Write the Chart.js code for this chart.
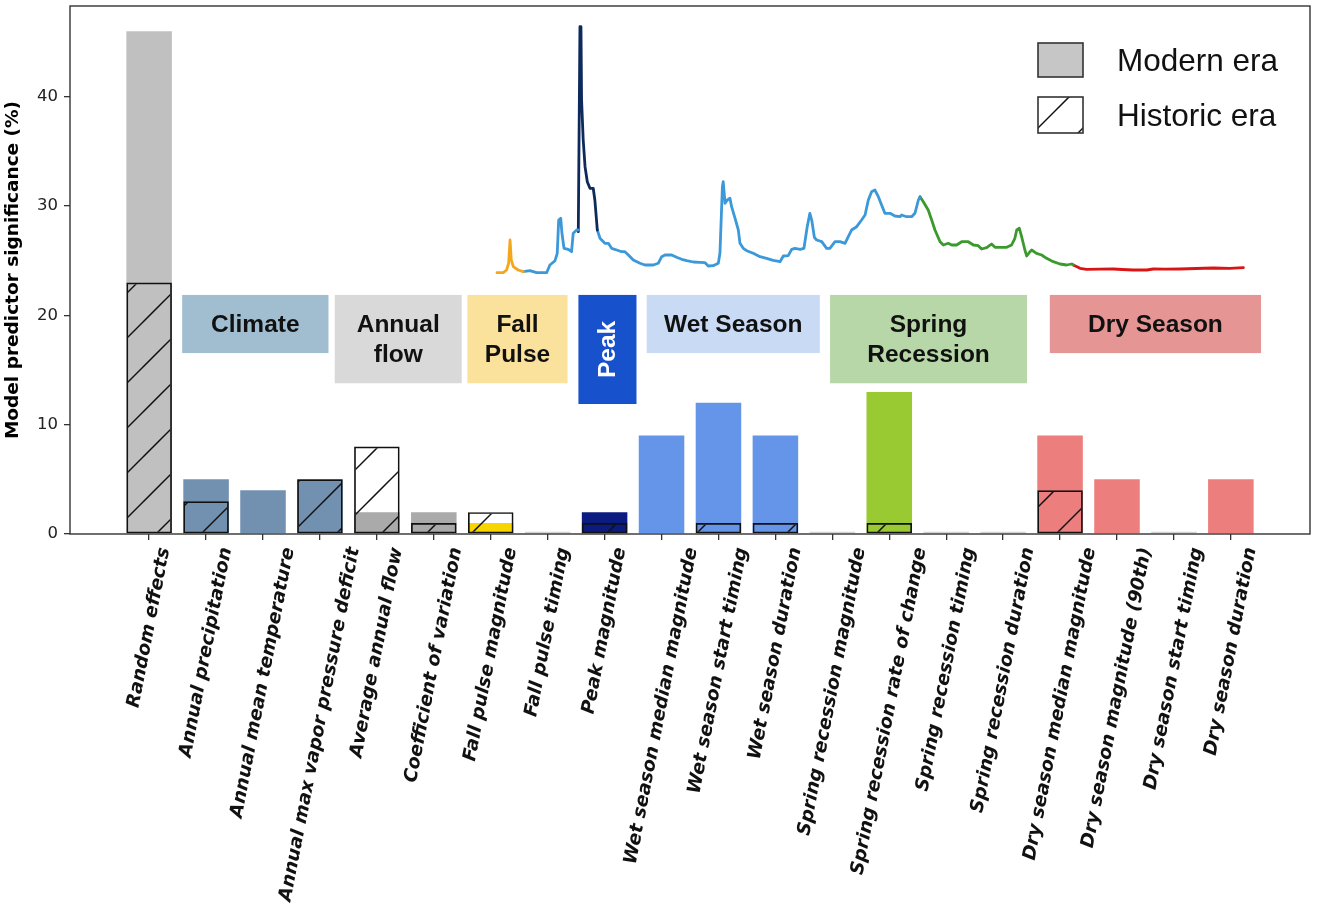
<!DOCTYPE html>
<html>
<head>
<meta charset="utf-8">
<script src="https://cdn.jsdelivr.net/npm/chart.js@4/dist/chart.umd.min.js"></script>
<style>
  html, body { margin: 0; padding: 0; background: #ffffff; }
  #wrap { width: 1317px; height: 914px; position: relative; }
</style>
</head>
<body>
<div id="wrap"><canvas id="chart" width="1317" height="914"></canvas></div>
<script>
// ---- Predictors and their significance (%) ----
const predictors = [
  'Random effects', 'Annual precipitation', 'Annual mean temperature',
  'Annual max vapor pressure deficit', 'Average annual flow', 'Coefficient of variation',
  'Fall pulse magnitude', 'Fall pulse timing', 'Peak magnitude',
  'Wet season median magnitude', 'Wet season start timing', 'Wet season duration',
  'Spring recession magnitude', 'Spring recession rate of change', 'Spring recession timing',
  'Spring recession duration', 'Dry season median magnitude', 'Dry season magnitude (90th)',
  'Dry season start timing', 'Dry season duration'
];
const modernEra   = [46, 5, 4, 5, 2, 2, 1, 0.2, 2, 9, 12, 9, 0.2, 13, 0.2, 0.2, 9, 5, 0.2, 5];
const historicEra = [23, 3, null, 5, 8, 1, 2, null, 1, null, 1, 1, null, 1, null, null, 4, null, null, null];
const modernColors = [
  '#c0c0c0', '#7291b1', '#7291b1', '#7291b1', '#aaaaaa', '#aaaaaa',
  '#f9d500', '#d3d3d3', '#0b1b80', '#6595e9', '#6595e9', '#6595e9',
  '#d3d3d3', '#9aca32', '#d3d3d3', '#d3d3d3', '#ec7e7e', '#ec7e7e',
  '#d3d3d3', '#ec7e7e'
];
const yTickValues = [0, 10, 20, 30, 40];

// ---- Functional flow groups shown as labelled panels ----
const groupNames  = ['Climate', 'Annual\nflow', 'Fall\nPulse', 'Peak', 'Wet Season', 'Spring\nRecession', 'Dry Season'];
const groupColors = ['#a0bed0', '#d9d9d9', '#fbe29c', '#1752cc', '#c9daf5', '#b7d7a8', '#e69595'];
// panel extents in axis units: [xStart, xEnd, yBottom, yTop]
const groupPanels = [
  [0.58, 3.15, 16.55, 21.87],
  [3.26, 5.49, 13.79, 21.87],
  [5.59, 7.35, 13.79, 21.87],
  [7.54, 8.56, 11.89, 21.87],
  [8.74, 11.78, 16.55, 21.87],
  [11.96, 15.42, 13.79, 21.87],
  [15.82, 19.53, 16.55, 21.87]
];

// ---- Illustrative annual hydrograph: [day of water year, flow] ----
const fallPulseFlow = [
  [0, 0.73], [3.1, 0.73], [4.7, 1.0], [5.7, 1.67], [6.4, 4.0], [7.0, 2.0],
  [8.0, 1.33], [10.4, 1.0], [12.9, 0.83]
];
const earlyWetFlow = [
  [12.9, 0.83], [16.1, 0.93], [19.4, 0.73], [24.3, 0.73], [25.9, 1.5], [28.4, 1.93],
  [29.5, 2.67], [30.2, 6.0], [31.2, 6.17], [31.8, 4.67], [32.8, 3.17], [34.9, 3.07],
  [36.5, 2.83], [37.3, 4.67], [39.0, 5.0], [39.8, 5.0]
];
const peakFlow = [
  [39.8, 4.83], [40.6, 25.33], [41.1, 25.33], [41.4, 18.0], [42.2, 14.0], [43.1, 11.33],
  [44.2, 9.83], [45.5, 9.17], [47.1, 9.17], [47.9, 8.0], [49.1, 5.0]
];
const wetSeasonFlow = [
  [49.1, 5.0], [50.4, 4.17], [52.8, 3.67], [54.5, 3.67], [56.1, 3.17], [58.6, 3.0],
  [61.0, 2.83], [62.6, 2.83], [64.3, 2.5], [66.7, 2.0], [70.0, 1.67], [72.4, 1.5],
  [76.5, 1.5], [78.9, 1.67], [80.6, 2.33], [82.2, 2.5], [85.5, 2.5], [87.9, 2.27],
  [90.4, 2.07], [92.8, 1.93], [96.1, 1.8], [99.3, 1.77], [101.8, 1.73], [103.4, 1.4],
  [105.8, 1.43], [108.3, 1.67], [109.1, 2.67], [110.3, 9.33], [110.7, 9.83], [111.6, 7.67],
  [112.7, 8.0], [114.0, 8.17], [114.8, 7.33], [116.5, 6.17], [118.1, 5.0], [118.9, 3.67],
  [120.5, 3.17], [122.2, 2.93], [125.4, 2.67], [128.7, 2.33], [131.9, 2.17], [135.2, 1.97],
  [138.5, 1.83], [140.1, 2.4], [142.5, 2.43], [144.2, 3.07], [145.8, 3.17], [148.3, 3.07],
  [150.2, 3.17], [151.8, 5.33], [153.1, 6.67], [154.0, 6.0], [155.3, 4.27], [156.4, 4.0],
  [158.9, 3.83], [161.3, 3.17], [162.9, 3.17], [165.4, 3.83], [167.8, 3.83], [170.3, 3.67],
  [171.9, 4.33], [173.5, 5.0], [176.0, 5.33], [178.4, 6.0], [180.1, 6.5], [181.7, 8.0],
  [183.3, 8.83], [184.9, 9.0], [186.6, 8.33], [188.2, 7.5], [189.8, 6.67], [192.3, 6.67],
  [194.7, 6.4], [197.2, 6.33], [198.0, 6.5], [200.4, 6.33], [202.9, 6.33], [204.5, 6.67],
  [206.2, 8.0], [207.0, 8.33]
];
const springRecessionFlow = [
  [207.0, 8.33], [208.6, 7.83], [211.0, 7.0], [212.7, 6.0], [214.3, 5.0], [216.8, 3.83],
  [218.4, 3.5], [220.8, 3.67], [222.5, 3.5], [224.9, 3.5], [227.4, 3.83], [230.6, 3.83],
  [233.1, 3.5], [235.5, 3.43], [237.1, 3.1], [239.6, 3.23], [242.0, 3.6], [243.7, 3.27],
  [246.1, 3.27], [249.4, 3.27], [251.8, 3.5], [253.4, 4.17], [254.3, 5.0], [255.6, 5.17],
  [256.7, 4.33], [258.3, 3.0], [259.2, 2.4], [260.8, 2.83], [261.6, 3.0], [264.0, 2.67],
  [266.5, 2.5], [268.9, 2.17], [272.2, 1.83], [275.5, 1.6], [278.7, 1.5], [281.2, 1.6],
  [282.0, 1.5]
];
const drySeasonFlow = [
  [282.0, 1.5], [285.3, 1.17], [288.5, 1.07], [295.0, 1.08], [301.6, 1.1], [306.0, 1.05],
  [311.3, 1.0], [317.9, 1.0], [321.1, 1.1], [327.0, 1.08], [334.2, 1.1], [342.0, 1.15],
  [350.5, 1.2], [358.6, 1.17], [365.2, 1.23]
];

// ---- Hatch fill for the historic-era bars ----
function makeHatch(spacing, phase, color, width, bg) {
  const c = document.createElement('canvas');
  c.width = spacing; c.height = spacing;
  const g = c.getContext('2d');
  if (bg) { g.fillStyle = bg; g.fillRect(0, 0, spacing, spacing); }
  g.strokeStyle = color;
  g.lineWidth = width;
  for (let k = -1; k <= 1; k++) {
    const s = phase + k * spacing;          // line x + y = s
    g.beginPath();
    g.moveTo(-5, s + 5);
    g.lineTo(s + 5, -5);
    g.stroke();
  }
  return g.createPattern(c, 'repeat');
}

const ctx = document.getElementById('chart').getContext('2d');
const hatch = makeHatch(45, 15, '#111111', 1.5, null);
const legendHatch = makeHatch(45, 41, '#111111', 1.5, '#ffffff');

const barPoints = (vals) => vals.map((v, i) => ({ x: i, y: v }));
const hydroLine = (pts, color) => ({
  type: 'line', data: pts, xAxisID: 'xDay', yAxisID: 'yFlow',
  borderColor: color, borderWidth: 2.8, pointRadius: 0, tension: 0,
  borderJoinStyle: 'round', borderCapStyle: 'round', order: 0, fill: false
});

// Panels with the flow-component names
const groupPanelPlugin = {
  id: 'groupPanels',
  beforeDatasetsDraw(chart) {
    const { ctx, scales: { x, y } } = chart;
    ctx.save();
    groupPanels.forEach((p, i) => {
      const left = x.getPixelForValue(p[0]);
      const right = x.getPixelForValue(p[1]);
      const bottom = y.getPixelForValue(p[2]);
      const top = y.getPixelForValue(p[3]);
      ctx.fillStyle = groupColors[i];
      ctx.fillRect(left, top, right - left, bottom - top);
      const cx = (left + right) / 2, cy = (top + bottom) / 2;
      const lines = groupNames[i].split('\n');
      ctx.font = 'bold 24.5px "Liberation Sans", Arial, sans-serif';
      ctx.textAlign = 'center';
      ctx.textBaseline = 'middle';
      if (groupNames[i] === 'Peak') {
        ctx.fillStyle = '#ffffff';
        ctx.save();
        ctx.translate(cx, cy);
        ctx.rotate(-Math.PI / 2);
        ctx.fillText(lines[0], 0, 1);
        ctx.restore();
      } else {
        ctx.fillStyle = '#111111';
        const lh = 30;
        lines.forEach((t, k) => {
          ctx.fillText(t, cx, cy + (k - (lines.length - 1) / 2) * lh + 1);
        });
      }
    });
    ctx.restore();
  }
};

// Rotated predictor names, each centred under its tick
const predictorLabelPlugin = {
  id: 'predictorLabels',
  afterDraw(chart) {
    const { ctx, scales: { x } } = chart;
    const angle = 79 * Math.PI / 180;
    const size = 18.5;
    const top = x.top + 12;
    ctx.save();
    ctx.font = `italic bold ${size}px "DejaVu Sans", sans-serif`;
    ctx.fillStyle = '#111111';
    ctx.textAlign = 'center';
    ctx.textBaseline = 'middle';
    predictors.forEach((name, i) => {
      const px = x.getPixelForValue(i);
      const w = ctx.measureText(name).width;
      const cy = top + (w * Math.sin(angle) + size * Math.cos(angle)) / 2;
      ctx.save();
      ctx.translate(px, cy);
      ctx.rotate(-angle);
      ctx.fillText(name, 0, 0);
      ctx.restore();
    });
    ctx.restore();
  }
};

// Axes frame and the era legend
const framePlugin = {
  id: 'frameAndLegend',
  afterDraw(chart) {
    const { ctx, chartArea: a } = chart;
    ctx.save();
    ctx.strokeStyle = '#333333';
    ctx.lineWidth = 1.4;
    ctx.strokeRect(a.left, a.top, a.right - a.left, a.bottom - a.top);

    const bx = a.right - 272, bw = 45;
    const entries = [
      { label: 'Modern era', fill: '#c6c6c6', top: a.top + 37, h: 34 },
      { label: 'Historic era', fill: legendHatch, top: a.top + 91, h: 36 }
    ];
    entries.forEach(e => {
      ctx.fillStyle = e.fill;
      ctx.fillRect(bx, e.top, bw, e.h);
      ctx.strokeStyle = '#333333';
      ctx.lineWidth = 1.6;
      ctx.strokeRect(bx, e.top, bw, e.h);
      ctx.fillStyle = '#111111';
      ctx.font = '31.5px "Liberation Sans", Arial, sans-serif';
      ctx.textAlign = 'left';
      ctx.textBaseline = 'middle';
      ctx.fillText(e.label, bx + 79, e.top + e.h / 2 + 2);
    });
    ctx.restore();
  }
};

new Chart(ctx, {
  data: {
    datasets: [
      {
        type: 'bar', label: 'Historic era', data: barPoints(historicEra),
        backgroundColor: hatch, borderColor: '#111111', borderWidth: 1.7,
        borderSkipped: false, grouped: false, categoryPercentage: 0.8, barPercentage: 1,
        xAxisID: 'x', yAxisID: 'y', order: 1
      },
      {
        type: 'bar', label: 'Modern era', data: barPoints(modernEra),
        backgroundColor: modernColors, borderWidth: 0,
        grouped: false, categoryPercentage: 0.8, barPercentage: 1,
        xAxisID: 'x', yAxisID: 'y', order: 2
      },
      hydroLine(fallPulseFlow, '#f5a71c'),
      hydroLine(earlyWetFlow, '#3b98d9'),
      hydroLine(peakFlow, '#0e2a5c'),
      hydroLine(wetSeasonFlow, '#3b98d9'),
      hydroLine(springRecessionFlow, '#3a9a2c'),
      hydroLine(drySeasonFlow, '#d91414')
    ]
  },
  options: {
    responsive: false,
    animation: false,
    devicePixelRatio: 1,
    layout: { padding: { top: 6, right: 7, bottom: 0, left: 0 } },
    plugins: { legend: { display: false }, tooltip: { enabled: false } },
    scales: {
      x: {
        type: 'linear', min: -1.39, max: 20.39, offset: false,
        border: { display: false },
        grid: { display: true, offset: false, drawOnChartArea: false, drawTicks: true, tickLength: 6, color: '#333333', lineWidth: 1.3 },
        ticks: { display: false, autoSkip: false },
        afterBuildTicks: (s) => { s.ticks = predictors.map((_, i) => ({ value: i })); },
        afterFit: (s) => { s.height = 380; s.paddingLeft = 0; s.paddingRight = 0; }
      },
      y: {
        type: 'linear', min: 0, max: 48.3,
        border: { display: false },
        grid: { display: true, drawOnChartArea: false, drawTicks: true, tickLength: 6, color: '#333333', lineWidth: 1.3 },
        ticks: {
          padding: 6, color: '#222222',
          font: { family: '"DejaVu Sans", sans-serif', size: 16.5 }
        },
        afterBuildTicks: (s) => { s.ticks = yTickValues.map(v => ({ value: v })); },
        title: {
          display: true, text: 'Model predictor significance (%)', color: '#000000',
          font: { family: '"DejaVu Sans", sans-serif', size: 18.5, weight: 'bold' },
          padding: { top: 2, bottom: 0 }
        },
        afterFit: (s) => { s.width = 70; s.paddingTop = 0; s.paddingBottom = 0; }
      },
      xDay: { type: 'linear', display: false, min: -208.9, max: 397.8 },
      yFlow: { type: 'linear', display: false, min: -25.4, max: 27.4 }
    }
  },
  plugins: [groupPanelPlugin, predictorLabelPlugin, framePlugin]
});
</script>
</body>
</html>
